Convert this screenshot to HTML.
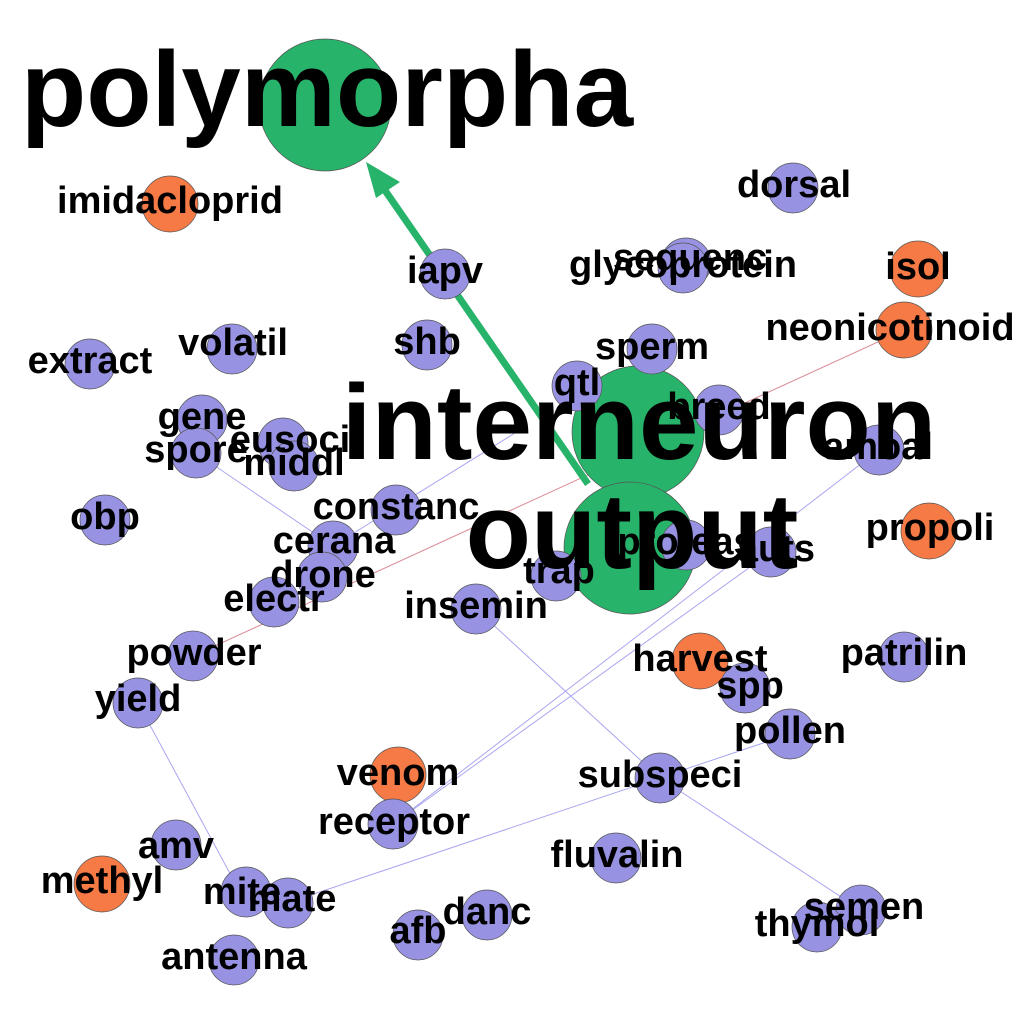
<!DOCTYPE html>
<html><head><meta charset="utf-8"><style>
html,body{margin:0;padding:0;background:#fff;width:1024px;height:1024px;overflow:hidden}
svg text{font-family:"Liberation Sans",sans-serif;font-weight:bold;text-anchor:middle;fill:#000}
.b{fill:#9793e2;stroke:#555;stroke-width:0.7}
.o{fill:#f57a45;stroke:#555;stroke-width:0.7}
.g{fill:#28b36b;stroke:#555;stroke-width:0.7}
.s{font-size:38px}
.L{font-size:107px}
</style></head><body>
<svg width="1024" height="1024" viewBox="0 0 1024 1024" xmlns="http://www.w3.org/2000/svg">
<g stroke="#a9a6f0" stroke-width="1" fill="none">
<line x1="196" y1="453" x2="333" y2="546"/>
<line x1="333" y1="546" x2="515" y2="433"/>
<line x1="393" y1="824" x2="771" y2="552"/>
<line x1="393" y1="824" x2="879" y2="450"/>
<line x1="476" y1="609" x2="660" y2="778"/>
<line x1="660" y1="778" x2="861" y2="910"/>
<line x1="138" y1="703" x2="240" y2="892"/>
<line x1="287" y1="903" x2="790" y2="734"/>
</g>
<line x1="193" y1="656" x2="904" y2="330" stroke="#d98a94" stroke-width="1"/>
<circle class="g" cx="325" cy="105" r="66"/>
<circle class="g" cx="638" cy="432" r="66"/>
<circle class="g" cx="630" cy="548" r="66"/>
<line x1="588" y1="484" x2="382" y2="186" stroke="#28b36b" stroke-width="7"/>
<polygon points="366,162 400,182 376,198" fill="#28b36b"/>
<g>
<circle class="o" cx="170" cy="204" r="28"/>
<circle class="o" cx="918" cy="269" r="28"/>
<circle class="o" cx="904" cy="330" r="28"/>
<circle class="o" cx="929" cy="531" r="28"/>
<circle class="o" cx="700" cy="661" r="28"/>
<circle class="o" cx="398" cy="775" r="28"/>
<circle class="o" cx="102" cy="884" r="28"/>
</g>
<g>
<circle class="b" cx="793" cy="188" r="25"/>
<circle class="b" cx="686" cy="263" r="25"/>
<circle class="b" cx="683" cy="268" r="25"/>
<circle class="b" cx="445" cy="274" r="25"/>
<circle class="b" cx="427" cy="345" r="25"/>
<circle class="b" cx="652" cy="349" r="25"/>
<circle class="b" cx="90" cy="364" r="25"/>
<circle class="b" cx="232" cy="349" r="25"/>
<circle class="b" cx="577" cy="386" r="25"/>
<circle class="b" cx="719" cy="410" r="25"/>
<circle class="b" cx="202" cy="420" r="25"/>
<circle class="b" cx="196" cy="453" r="25"/>
<circle class="b" cx="283" cy="443" r="25"/>
<circle class="b" cx="294" cy="466" r="25"/>
<circle class="b" cx="879" cy="450" r="25"/>
<circle class="b" cx="105" cy="520" r="25"/>
<circle class="b" cx="396" cy="510" r="25"/>
<circle class="b" cx="333" cy="546" r="25"/>
<circle class="b" cx="686" cy="545" r="25"/>
<circle class="b" cx="771" cy="552" r="25"/>
<circle class="b" cx="322" cy="577" r="25"/>
<circle class="b" cx="556" cy="576" r="25"/>
<circle class="b" cx="274" cy="602" r="25"/>
<circle class="b" cx="476" cy="609" r="25"/>
<circle class="b" cx="193" cy="656" r="25"/>
<circle class="b" cx="904" cy="657" r="25"/>
<circle class="b" cx="745" cy="688" r="25"/>
<circle class="b" cx="138" cy="703" r="25"/>
<circle class="b" cx="790" cy="734" r="25"/>
<circle class="b" cx="660" cy="778" r="25"/>
<circle class="b" cx="393" cy="824" r="25"/>
<circle class="b" cx="176" cy="845" r="25"/>
<circle class="b" cx="616" cy="858" r="25"/>
<circle class="b" cx="246" cy="892" r="25"/>
<circle class="b" cx="288" cy="903" r="25"/>
<circle class="b" cx="487" cy="915" r="25"/>
<circle class="b" cx="418" cy="935" r="25"/>
<circle class="b" cx="861" cy="910" r="25"/>
<circle class="b" cx="817" cy="927" r="25"/>
<circle class="b" cx="234" cy="960" r="25"/>
</g>
<text class="L" x="327" y="126">polymorpha</text>
<text class="L" x="639" y="459">interneuron</text>
<text class="L" x="632" y="568">output</text>
<g>
<text class="s" x="170" y="213">imidacloprid</text>
<text class="s" x="918" y="279">isol</text>
<text class="s" x="890" y="340">neonicotinoid</text>
<text class="s" x="930" y="540">propoli</text>
<text class="s" x="700" y="671">harvest</text>
<text class="s" x="398" y="785">venom</text>
<text class="s" x="102" y="893">methyl</text>
<text class="s" x="794" y="197">dorsal</text>
<text class="s" x="690" y="270">sequenc</text>
<text class="s" x="683" y="277">glycoprotein</text>
<text class="s" x="445" y="283">iapv</text>
<text class="s" x="427" y="354">shb</text>
<text class="s" x="652" y="359">sperm</text>
<text class="s" x="90" y="373">extract</text>
<text class="s" x="233" y="355">volatil</text>
<text class="s" x="577" y="395">qtl</text>
<text class="s" x="719" y="419">breed</text>
<text class="s" x="202" y="429">gene</text>
<text class="s" x="196" y="462">spore</text>
<text class="s" x="290" y="452">eusoci</text>
<text class="s" x="294" y="475">middl</text>
<text class="s" x="878" y="459">amoal</text>
<text class="s" x="105" y="529">obp</text>
<text class="s" x="396" y="519">constanc</text>
<text class="s" x="334" y="553">cerana</text>
<text class="s" x="686" y="554">proteas</text>
<text class="s" x="776" y="561">auts</text>
<text class="s" x="323" y="587">drone</text>
<text class="s" x="559" y="583">trap</text>
<text class="s" x="274" y="611">electr</text>
<text class="s" x="476" y="618">insemin</text>
<text class="s" x="194" y="665">powder</text>
<text class="s" x="904" y="665">patrilin</text>
<text class="s" x="750" y="698">spp</text>
<text class="s" x="138" y="711">yield</text>
<text class="s" x="790" y="743">pollen</text>
<text class="s" x="660" y="787">subspeci</text>
<text class="s" x="394" y="834">receptor</text>
<text class="s" x="176" y="858">amv</text>
<text class="s" x="617" y="867">fluvalin</text>
<text class="s" x="242" y="904">mite</text>
<text class="s" x="292" y="911">mate</text>
<text class="s" x="487" y="924">danc</text>
<text class="s" x="418" y="943">afb</text>
<text class="s" x="864" y="919">semen</text>
<text class="s" x="817" y="936">thymol</text>
<text class="s" x="234" y="969">antenna</text>
</g>
</svg>
</body></html>
